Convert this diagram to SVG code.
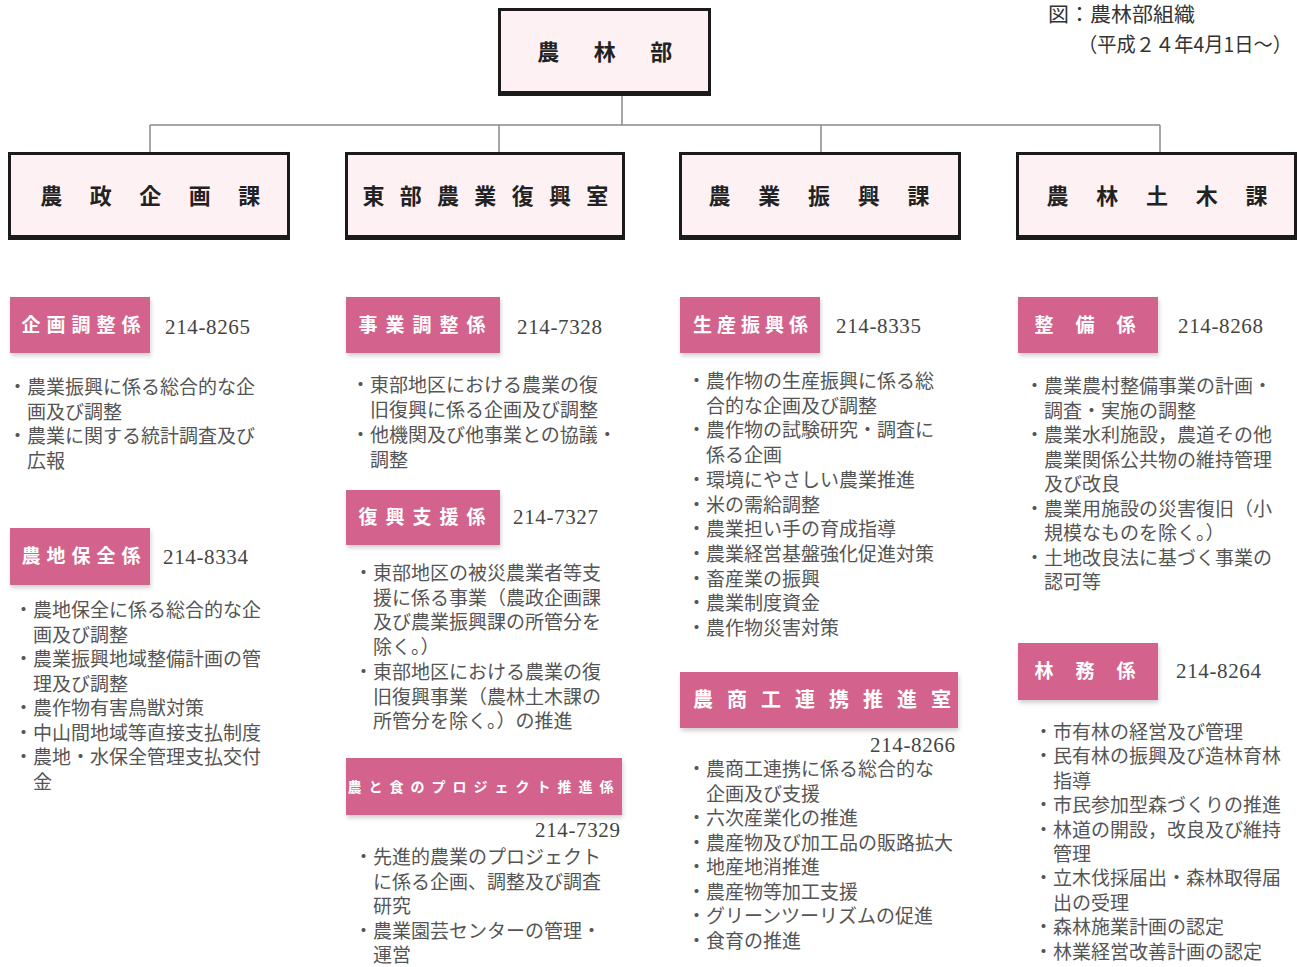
<svg xmlns="http://www.w3.org/2000/svg" width="1298" height="967" viewBox="0 0 1298 967">
<defs>
<style>
.box{fill:#fdf1f4;stroke:#1b1b1b;stroke-width:3}
.bar{fill:#1b1b1b}
.bt{font-family:"Noto Sans CJK JP","Noto Sans CJK SC",sans-serif;font-size:22px;font-weight:bold;fill:#222;text-anchor:middle}
.lab{fill:#d3638c}
.lt{font-family:"Noto Sans CJK JP",sans-serif;font-size:19px;font-weight:bold;fill:#fff;text-anchor:middle}
.ph{font-family:"Liberation Serif",serif;font-size:21px;fill:#444}
.tx{font-family:"Noto Sans CJK JP",sans-serif;font-size:19px;fill:#555}
.ttl{font-family:"Noto Sans CJK JP",sans-serif;font-size:20px;fill:#333}
.con{stroke:#8a8a8a;stroke-width:1.5;fill:none}
</style>
<filter id="sh" x="-5%" y="-5%" width="115%" height="125%"><feDropShadow dx="1" dy="3" stdDeviation="2" flood-color="#000" flood-opacity="0.18"/></filter>
</defs>
<rect width="1298" height="967" fill="#fff"/>

<g id="title">
<text class="ttl" x="1048" y="22" textLength="147" lengthAdjust="spacingAndGlyphs">図：農林部組織</text>
<text class="ttl" x="1078" y="52" textLength="214" lengthAdjust="spacingAndGlyphs">（平成２４年4月1日～）</text>
</g>

<g id="connectors">
<line class="con" x1="622" y1="96" x2="622" y2="125"/>
<line class="con" x1="150" y1="125" x2="1160" y2="125"/>
<line class="con" x1="150" y1="125" x2="150" y2="152"/>
<line class="con" x1="499" y1="125" x2="499" y2="152"/>
<line class="con" x1="821" y1="125" x2="821" y2="152"/>
<line class="con" x1="1160" y1="125" x2="1160" y2="152"/>
</g>

<g id="n-nourinbu">
<rect class="box" x="499.5" y="9.5" width="210" height="85"/>
<rect class="bar" x="498" y="91" width="213" height="5"/>
<text class="bt" x="622" y="60" letter-spacing="34.5">農林部</text>
</g>

<g id="n-nousei">
<rect class="box" x="9.5" y="153.5" width="279" height="85"/>
<rect class="bar" x="8" y="235" width="282" height="5"/>
<text class="bt" x="164" y="204" letter-spacing="27.5">農政企画課</text>
</g>
<g id="n-toubu">
<rect class="box" x="346.5" y="153.5" width="277" height="85"/>
<rect class="bar" x="345" y="235" width="280" height="5"/>
<text class="bt" x="493" y="204" letter-spacing="15.3">東部農業復興室</text>
</g>
<g id="n-shinkou">
<rect class="box" x="680.5" y="153.5" width="279" height="85"/>
<rect class="bar" x="679" y="235" width="282" height="5"/>
<text class="bt" x="833" y="204" letter-spacing="27.75">農業振興課</text>
</g>
<g id="n-doboku">
<rect class="box" x="1017.5" y="153.5" width="278" height="85"/>
<rect class="bar" x="1016" y="235" width="281" height="5"/>
<text class="bt" x="1171" y="204" letter-spacing="27.75">農林土木課</text>
</g>

<!-- Column 1 -->
<g id="s-kikaku">
<rect class="lab" x="10" y="297" width="140" height="56" filter="url(#sh)"/>
<text class="lt" x="84" y="332" letter-spacing="6">企画調整係</text>
<text class="ph" x="165" y="334" textLength="85">214-8265</text>
<text class="tx" y="394"><tspan x="8">・農業振興に係る総合的な企</tspan><tspan x="27" dy="24.5">画及び調整</tspan><tspan x="8" dy="24.5">・農業に関する統計調査及び</tspan><tspan x="27" dy="24.5">広報</tspan></text>
</g>
<g id="s-nouchi">
<rect class="lab" x="10" y="528" width="140" height="57" filter="url(#sh)"/>
<text class="lt" x="84" y="563" letter-spacing="6">農地保全係</text>
<text class="ph" x="163" y="564" textLength="85">214-8334</text>
<text class="tx" y="617"><tspan x="14">・農地保全に係る総合的な企</tspan><tspan x="33" dy="24.5">画及び調整</tspan><tspan x="14" dy="24.5">・農業振興地域整備計画の管</tspan><tspan x="33" dy="24.5">理及び調整</tspan><tspan x="14" dy="24.5">・農作物有害鳥獣対策</tspan><tspan x="14" dy="24.5">・中山間地域等直接支払制度</tspan><tspan x="14" dy="24.5">・農地・水保全管理支払交付</tspan><tspan x="33" dy="24.5">金</tspan></text>
</g>

<!-- Column 2 -->
<g id="s-jigyou">
<rect class="lab" x="346" y="297" width="154" height="56" filter="url(#sh)"/>
<text class="lt" x="426" y="332" letter-spacing="8">事業調整係</text>
<text class="ph" x="517" y="334" textLength="85">214-7328</text>
<text class="tx" y="392"><tspan x="351">・東部地区における農業の復</tspan><tspan x="370" dy="25">旧復興に係る企画及び調整</tspan><tspan x="351" dy="25">・他機関及び他事業との協議・</tspan><tspan x="370" dy="25">調整</tspan></text>
</g>
<g id="s-fukkou">
<rect class="lab" x="346" y="490" width="154" height="55" filter="url(#sh)"/>
<text class="lt" x="426" y="524" letter-spacing="8">復興支援係</text>
<text class="ph" x="513" y="524" textLength="85">214-7327</text>
<text class="tx" y="580"><tspan x="354">・東部地区の被災農業者等支</tspan><tspan x="373" dy="24.5">援に係る事業（農政企画課</tspan><tspan x="373" dy="24.5">及び農業振興課の所管分を</tspan><tspan x="373" dy="24.5">除く。）</tspan><tspan x="354" dy="25.5">・東部地区における農業の復</tspan><tspan x="373" dy="24.5">旧復興事業（農林土木課の</tspan><tspan x="373" dy="24.5">所管分を除く。）の推進</tspan></text>
</g>
<g id="s-nouto">
<rect class="lab" x="346" y="758" width="276" height="57" filter="url(#sh)"/>
<text class="lt" x="484" y="792" style="font-size:14px" letter-spacing="7">農と食のプロジェクト推進係</text>
<text class="ph" x="535" y="837" textLength="85">214-7329</text>
<text class="tx" y="864"><tspan x="354">・先進的農業のプロジェクト</tspan><tspan x="373" dy="24.5">に係る企画、調整及び調査</tspan><tspan x="373" dy="24.5">研究</tspan><tspan x="354" dy="24.5">・農業園芸センターの管理・</tspan><tspan x="373" dy="24.5">運営</tspan></text>
</g>

<!-- Column 3 -->
<g id="s-seisan">
<rect class="lab" x="680" y="297" width="140" height="56" filter="url(#sh)"/>
<text class="lt" x="753" y="332" letter-spacing="5">生産振興係</text>
<text class="ph" x="836" y="333" textLength="85">214-8335</text>
<text class="tx" y="388"><tspan x="687">・農作物の生産振興に係る総</tspan><tspan x="706" dy="24.7">合的な企画及び調整</tspan><tspan x="687" dy="24.7">・農作物の試験研究・調査に</tspan><tspan x="706" dy="24.7">係る企画</tspan><tspan x="687" dy="24.7">・環境にやさしい農業推進</tspan><tspan x="687" dy="24.7">・米の需給調整</tspan><tspan x="687" dy="24.7">・農業担い手の育成指導</tspan><tspan x="687" dy="24.7">・農業経営基盤強化促進対策</tspan><tspan x="687" dy="24.7">・畜産業の振興</tspan><tspan x="687" dy="24.7">・農業制度資金</tspan><tspan x="687" dy="24.7">・農作物災害対策</tspan></text>
</g>
<g id="s-noushoukou">
<rect class="lab" x="680" y="672" width="278" height="56" filter="url(#sh)"/>
<text class="lt" x="829" y="707" style="font-size:20px" letter-spacing="14">農商工連携推進室</text>
<text class="ph" x="870" y="752" textLength="85">214-8266</text>
<text class="tx" y="776"><tspan x="687">・農商工連携に係る総合的な</tspan><tspan x="706" dy="24.5">企画及び支援</tspan><tspan x="687" dy="24.5">・六次産業化の推進</tspan><tspan x="687" dy="24.5">・農産物及び加工品の販路拡大</tspan><tspan x="687" dy="24.5">・地産地消推進</tspan><tspan x="687" dy="24.5">・農産物等加工支援</tspan><tspan x="687" dy="24.5">・グリーンツーリズムの促進</tspan><tspan x="687" dy="24.5">・食育の推進</tspan></text>
</g>

<!-- Column 4 -->
<g id="s-seibi">
<rect class="lab" x="1018" y="297" width="140" height="56" filter="url(#sh)"/>
<text class="lt" x="1096" y="332" letter-spacing="22">整備係</text>
<text class="ph" x="1178" y="333" textLength="85">214-8268</text>
<text class="tx" y="393"><tspan x="1025">・農業農村整備事業の計画・</tspan><tspan x="1044" dy="24.5">調査・実施の調整</tspan><tspan x="1025" dy="24.5">・農業水利施設，農道その他</tspan><tspan x="1044" dy="24.5">農業関係公共物の維持管理</tspan><tspan x="1044" dy="24.5">及び改良</tspan><tspan x="1025" dy="24.5">・農業用施設の災害復旧（小</tspan><tspan x="1044" dy="24.5">規模なものを除く。）</tspan><tspan x="1025" dy="24.5">・土地改良法に基づく事業の</tspan><tspan x="1044" dy="24.5">認可等</tspan></text>
</g>
<g id="s-rinmu">
<rect class="lab" x="1018" y="643" width="140" height="57" filter="url(#sh)"/>
<text class="lt" x="1096" y="678" letter-spacing="22">林務係</text>
<text class="ph" x="1176" y="678" textLength="85">214-8264</text>
<text class="tx" y="739"><tspan x="1034">・市有林の経営及び管理</tspan><tspan x="1034" dy="24.4">・民有林の振興及び造林育林</tspan><tspan x="1053" dy="24.4">指導</tspan><tspan x="1034" dy="24.4">・市民参加型森づくりの推進</tspan><tspan x="1034" dy="24.4">・林道の開設，改良及び維持</tspan><tspan x="1053" dy="24.4">管理</tspan><tspan x="1034" dy="24.4">・立木伐採届出・森林取得届</tspan><tspan x="1053" dy="24.4">出の受理</tspan><tspan x="1034" dy="24.4">・森林施業計画の認定</tspan><tspan x="1034" dy="24.4">・林業経営改善計画の認定</tspan></text>
</g>
</svg>
